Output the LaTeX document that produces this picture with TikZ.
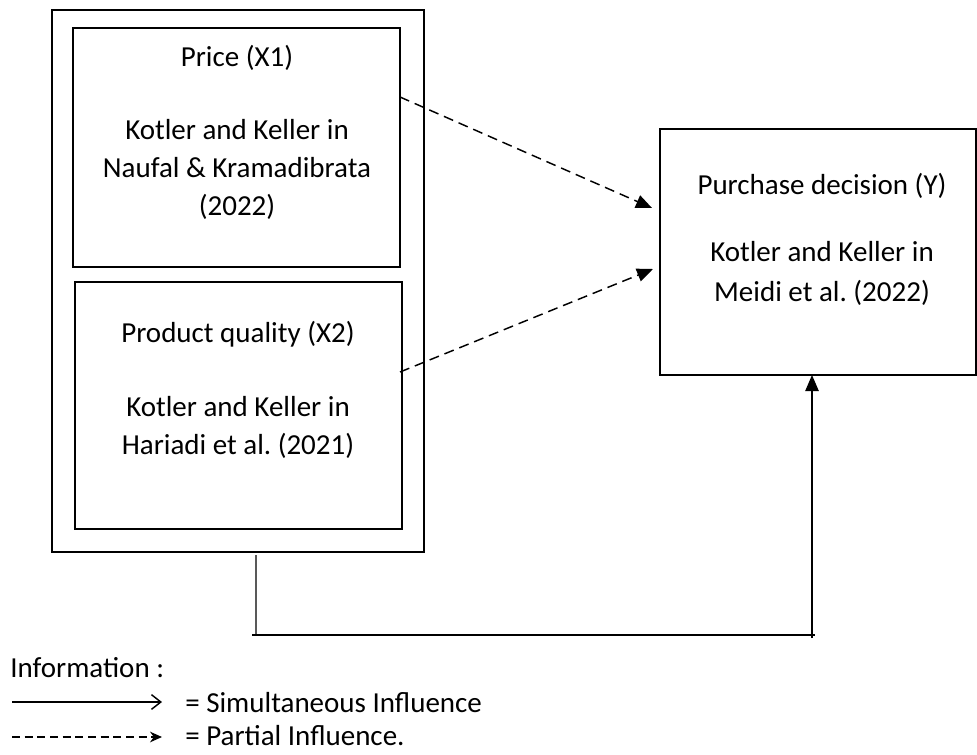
\documentclass[tikz,border=0pt]{standalone}
\usepackage{fontspec}
\setmainfont{Carlito}
\usetikzlibrary{arrows.meta,calc}
\tikzset{
  boxnode/.style={draw, line width=1.1pt, inner sep=0pt, outer sep=0pt},
  outerbox/.style={draw, line width=1.3pt, inner sep=0pt, outer sep=0pt},
  txt/.style={anchor=base, inner sep=0pt, font=\fontsize{21.75}{26}\selectfont},
  partial/.style={line width=1.1pt, dash pattern=on 7.5pt off 4.5pt, -{Triangle[length=12pt,width=10pt]}},
  solidline/.style={line width=1.1pt},
}
\begin{document}
\begin{tikzpicture}[x=0.75pt,y=-0.75pt]
\useasboundingbox (0,0) rectangle (977,755);
% boxes
\node[outerbox, minimum width=279pt, minimum height=406.5pt] (outer) at (238,281) {};
\node[boxnode, minimum width=245.25pt, minimum height=179.25pt] (p1) at (236.5,147.5) {};
\node[boxnode, minimum width=245.25pt, minimum height=185.25pt] (p2) at (238.5,405.5) {};
\node[boxnode, minimum width=237pt, minimum height=184.5pt] (yb) at (818,252) {};
% texts box 1
\node[txt] (t11) at (237,67) {Price (X1)};
\node[txt] (t12) at (237,140) {Kotler and Keller in};
\node[txt] (t13) at (237,178) {Naufal \& Kramadibrata};
\node[txt] (t14) at (237,216) {(2022)};
% texts box 2
\node[txt] (t21) at (238,343) {Product quality (X2)};
\node[txt] (t22) at (238,416) {Kotler and Keller in};
\node[txt] (t23) at (238,454) {Hariadi et al.\ (2021)};
% texts right box
\node[txt] (t31) at (822,195) {Purchase decision (Y)};
\node[txt] (t32) at (822,262) {Kotler and Keller in};
\node[txt] (t33) at (822,302) {Meidi et al.\ (2022)};
% dashed arrows
\coordinate (a1s) at ($(p1.north east)+(0,69)$);
\coordinate (a1e) at ($(yb.west)+(-8,-44)$);
\coordinate (a2s) at ($(p2.east)+(-2,-33.5)$);
\coordinate (a2e) at ($(yb.west)+(-7,17)$);
\draw[partial] (a1s) -- (a1e);
\draw[partial] (a2s) -- (a2e);
% simultaneous connector
\coordinate (b1) at ($(outer.south west)+(204,3)$);
\coordinate (b2) at ($(b1)+(0,80)$);
\coordinate (b3) at (252,635);
\coordinate (b4) at (815,635);
\coordinate (b5) at (812,638);
\draw[solidline, draw=black!65] (b1) -- (b2);
\draw[solidline] (b3) -- (b4);
\draw[solidline, -{Triangle[length=12pt,width=10pt]}] (b5) -- (b5 |- yb.south);
% legend
\node[txt, anchor=base west] (info) at (10,677) {Information :};
\coordinate (l1s) at (12,702);
\coordinate (l1e) at (162,702);
\draw[solidline, -{Straight Barb[length=7pt,width=11pt]}] (l1s) -- (l1e);
\node[txt, anchor=base west] (leg1) at (185,712) {= Simultaneous Influence};
\coordinate (l2s) at (12,737);
\coordinate (l2e) at (162,737);
\draw[line width=1.1pt, dash pattern=on 6pt off 3.5pt, -{Stealth[length=9pt,width=8pt]}] (l2s) -- (l2e);
\node[txt, anchor=base west] (leg2) at (185,745) {= Partial Influence.};
\end{tikzpicture}
\end{document}
